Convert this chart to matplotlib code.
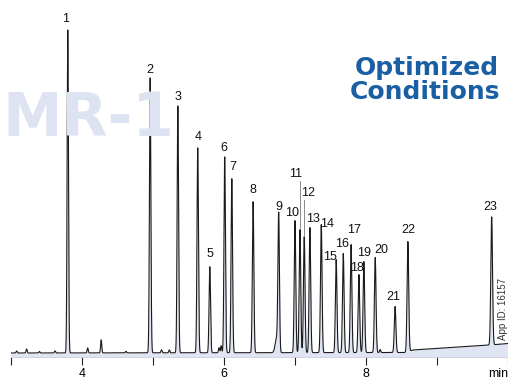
import matplotlib
matplotlib.use("Agg")
import matplotlib.pyplot as plt
import numpy as np

# retention times (min) and peak heights above baseline for the 23 analytes
peak_ids = [str(i) for i in range(1, 24)]
peak_times = [3.80, 4.96, 5.35, 5.63, 5.80, 6.01, 6.11, 6.41, 6.77, 7.00, 7.07, 7.13,
              7.21, 7.37, 7.58, 7.68, 7.79, 7.90, 7.97, 8.13, 8.41, 8.59, 9.77]
peak_heights = [323, 275, 247, 205, 86, 196, 174, 151, 136, 132, 123, 116,
                125, 128, 93, 99, 108, 78, 91, 95, 46, 110, 128]

# small unlabelled peaks and noise in the trace
minor_times = [3.08, 3.22, 3.40, 3.62, 4.08, 4.27, 4.62, 5.12, 5.23, 5.93, 5.96, 6.74, 8.20]
minor_heights = [2, 4, 1.5, 2, 5, 13, 1.5, 3, 3, 5, 7, 14, 3]

# sloping baseline knots
base_t = [3.0, 8.55, 8.66, 9.75, 10.0]
base_y = [4.0, 4.5, 7.0, 12.0, 13.5]

xticks = [3, 4, 5, 6, 7, 8, 9, 10]
xtick_labels = ["", "4", "", "6", "", "8", "", "min"]

# label offsets in pixels from the apex of each peak (to the label centre)
label_off = [(-2, 11), (0, 8), (0, 9), (0, 11), (0, 13), (-1, 9), (1, 12), (0, 12),
             (0, 10), (-3, 8), (-4, 56), (4, 44), (3, 9), (6, 1), (-6, 3), (-1, 10),
             (3, 15), (-2, 7), (0, 9), (6, 8), (-2, 10), (0, 12), (-1, 10)]

t = np.linspace(3.0, 10.0, 8000)
signal = np.interp(t, base_t, base_y)
for rt, h in zip(peak_times, peak_heights):
    sig = 0.009 + 0.003 * (rt - 3.0) / 7.0
    signal += h * np.exp(-0.5 * ((t - rt) / sig) ** 2)
for rt, h in zip(minor_times, minor_heights):
    sig = 0.02 if rt == 6.74 else 0.008
    signal += h * np.exp(-0.5 * ((t - rt) / sig) ** 2)

fig = plt.figure(figsize=(5.08, 3.79), dpi=100)
ax = fig.add_axes([11 / 508, 22 / 379, 497 / 508, 357 / 379])
ax.set_xlim(3, 10)
ax.set_ylim(0, 357)

# watermark behind the trace
fig.text(0.004, 0.685, "MR-1", fontsize=43, fontweight="bold", color="#dde3f0",
         family="DejaVu Sans", ha="left", va="center", zorder=0)
fig.text(0.983, 0.82, "Optimized", fontsize=18, fontweight="bold",
         color="#1a5ea4", family="DejaVu Sans", ha="right", va="center")
fig.text(0.985, 0.757, "Conditions", fontsize=18, fontweight="bold",
         color="#1a5ea4", family="DejaVu Sans", ha="right", va="center")

ax.fill_between(t, 0, signal, color="#dfe5f2", lw=0, zorder=1)
ax.plot(t, signal, color="#1a1a1a", lw=0.8, zorder=2)

for name, rt, h, (dx, dy) in zip(peak_ids, peak_times, peak_heights, label_off):
    top = h + np.interp(rt, base_t, base_y)
    ax.annotate(name, (rt, top), xytext=(dx, dy), textcoords="offset pixels",
                ha="center", va="center",
                fontsize=9, family="Liberation Sans", color="#111111")

# leader lines for the crowded 11/12 pair
for i in (10, 11):
    top = peak_heights[i] + np.interp(peak_times[i], base_t, base_y)
    dy = label_off[i][1]
    ax.plot([peak_times[i], peak_times[i]], [top + 1, top + dy - 7],
            color="#8a8a8a", lw=0.7, zorder=2)

fig.text(0.991, 0.103, "App ID: 16157", rotation=90, fontsize=7,
         family="Liberation Sans", color="#333333", ha="center", va="bottom")

for s in ["top", "left", "right"]:
    ax.spines[s].set_visible(False)
ax.spines["bottom"].set_color("#c9cfdc")
ax.spines["bottom"].set_linewidth(0.6)
ax.set_yticks([])
ax.set_xticks(xticks)
ax.set_xticklabels(xtick_labels, fontsize=9, family="Liberation Sans")
ax.get_xticklabels()[-1].set_horizontalalignment("right")
ax.tick_params(axis="x", direction="out", length=6, width=0.8, color="#222222", pad=2)

fig.savefig("out.png", dpi=100)
